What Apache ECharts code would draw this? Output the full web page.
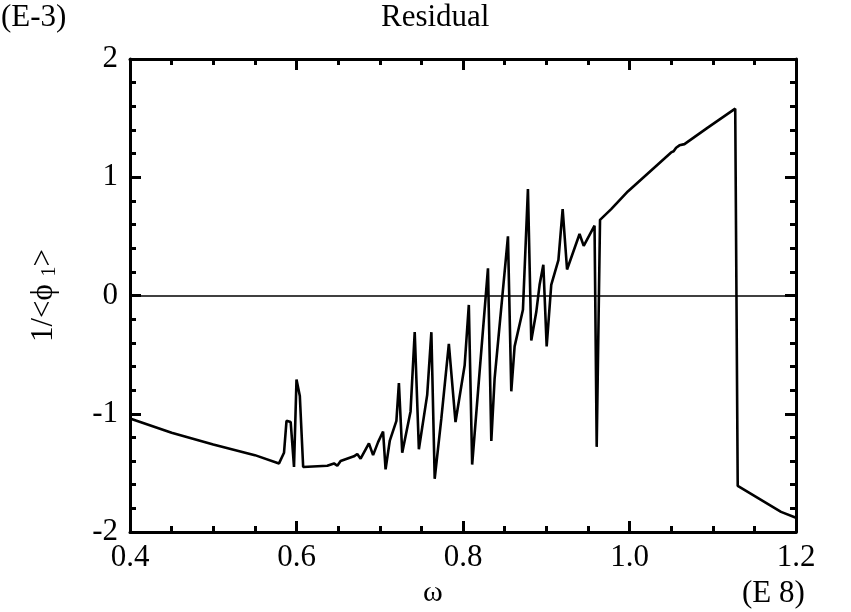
<!DOCTYPE html>
<html>
<head>
<meta charset="utf-8">
<script src="https://cdn.jsdelivr.net/npm/echarts@6/dist/echarts.min.js"></script>
<style>
  html, body { margin: 0; padding: 0; background: #fff; }
  #residual-chart { width: 851px; height: 612px; }
</style>
</head>
<body>
<div id="residual-chart"></div>
<script>
// omega (E 8) and residual 1/<phi_1> (E-3)
var omega = [
  0.400, 0.450, 0.500, 0.550, 0.579, 0.585, 0.588, 0.593, 0.597, 0.600,
  0.604, 0.608, 0.637, 0.645, 0.649, 0.653, 0.669, 0.673, 0.677, 0.687,
  0.692, 0.698, 0.704, 0.707, 0.712, 0.720, 0.723, 0.727, 0.737, 0.742,
  0.747, 0.757, 0.762, 0.766, 0.774, 0.783, 0.791, 0.802, 0.807, 0.811,
  0.820, 0.830, 0.834, 0.838, 0.854, 0.858, 0.862, 0.872, 0.878, 0.882,
  0.888, 0.892, 0.8965, 0.9005, 0.906, 0.9146, 0.9197, 0.925, 0.940, 0.945,
  0.958, 0.9606, 0.9646, 0.978, 0.998, 1.050, 1.053, 1.056, 1.060, 1.066,
  1.094, 1.127, 1.130, 1.182, 1.200
];
var residual = [
  -1.04, -1.16, -1.26, -1.35, -1.42, -1.33, -1.06, -1.07, -1.45, -0.71,
  -0.85, -1.45, -1.44, -1.42, -1.44, -1.40, -1.36, -1.34, -1.38, -1.25,
  -1.35, -1.24, -1.15, -1.47, -1.23, -1.06, -0.74, -1.33, -0.98, -0.31,
  -1.30, -0.84, -0.31, -1.55, -1.04, -0.41, -1.07, -0.59, -0.08, -1.43,
  -0.64, 0.23, -1.23, -0.70, 0.50, -0.81, -0.43, -0.12, 0.90, -0.38,
  -0.14, 0.09, 0.26, -0.43, 0.09, 0.30, 0.73, 0.22, 0.52, 0.42,
  0.59, -1.28, 0.64, 0.73, 0.88, 1.21, 1.22, 1.25, 1.27, 1.28,
  1.42, 1.58, -1.61, -1.83, -1.88
];
var xTicks = { min: 0.4, max: 1.2, step: 0.2 };
var yTicks = { min: -2, max: 2, step: 1 };

var serifFont = '"Liberation Serif", "DejaVu Serif", serif';

function makeXAxis(pos, showLabels) {
  return {
    type: 'value',
    position: pos,
    min: xTicks.min,
    max: xTicks.max,
    interval: xTicks.step,
    axisLine: { show: true, onZero: false, lineStyle: { color: '#000', width: 3 } },
    axisTick: { show: true, inside: true, length: 11, lineStyle: { color: '#000', width: 3 } },
    minorTick: { show: true, splitNumber: 4, length: 6, lineStyle: { color: '#000', width: 3 } },
    splitLine: { show: false },
    axisLabel: {
      show: showLabels,
      showMinLabel: true,
      showMaxLabel: true,
      margin: 10,
      color: '#000',
      fontFamily: serifFont,
      fontSize: 31,
      formatter: function (v) { return v.toFixed(1); }
    }
  };
}

function makeYAxis(pos, showLabels) {
  return {
    type: 'value',
    position: pos,
    min: yTicks.min,
    max: yTicks.max,
    interval: yTicks.step,
    axisLine: { show: true, onZero: false, lineStyle: { color: '#000', width: 3 } },
    axisTick: { show: true, inside: true, length: 11, lineStyle: { color: '#000', width: 3 } },
    minorTick: { show: true, splitNumber: 5, length: 6, lineStyle: { color: '#000', width: 3 } },
    splitLine: { show: false },
    axisLabel: {
      show: showLabels,
      margin: 12,
      color: '#000',
      fontFamily: serifFont,
      fontSize: 31
    }
  };
}

var chart = echarts.init(document.getElementById('residual-chart'));

var yAxisLeft = makeYAxis('left', true);
yAxisLeft.name = '{a|1/<ϕ }{s|1}{a|>}';
yAxisLeft.nameLocation = 'middle';
yAxisLeft.nameGap = 70;
yAxisLeft.nameRotate = 90;
yAxisLeft.nameTextStyle = {
  color: '#000',
  rich: {
    a: { fontFamily: serifFont, fontSize: 31, color: '#000' },
    s: { fontFamily: serifFont, fontSize: 20, color: '#000', padding: [12, 0, 0, 0] }
  }
};

chart.setOption({
  animation: false,
  backgroundColor: '#fff',
  grid: { left: 130, right: 55, top: 59, bottom: 80 },
  xAxis: [makeXAxis('bottom', true), makeXAxis('top', false)],
  yAxis: [yAxisLeft, makeYAxis('right', false)],
  graphic: [
    { type: 'text', left: 1, top: 2, style: { text: '(E-3)', font: '31px ' + serifFont, fill: '#000' } },
    { type: 'text', left: 381, top: 2, style: { text: 'Residual', font: '31px ' + serifFont, fill: '#000' } },
    { type: 'text', left: 423, top: 578, style: { text: 'ω', font: '30px ' + serifFont, fill: '#000' } },
    { type: 'text', left: 742, top: 578, style: { text: '(E 8)', font: '31px ' + serifFont, fill: '#000' } }
  ],
  series: [{
    name: 'residual',
    type: 'line',
    xAxisIndex: 0,
    yAxisIndex: 0,
    showSymbol: false,
    symbol: 'none',
    lineStyle: { color: '#000', width: 2.6 },
    data: omega.map(function (w, i) { return [w, residual[i]]; }),
    markLine: {
      silent: true,
      symbol: 'none',
      label: { show: false },
      lineStyle: { color: '#000', width: 1.6, type: 'solid' },
      data: [{ yAxis: 0 }]
    }
  }]
});
</script>
</body>
</html>
